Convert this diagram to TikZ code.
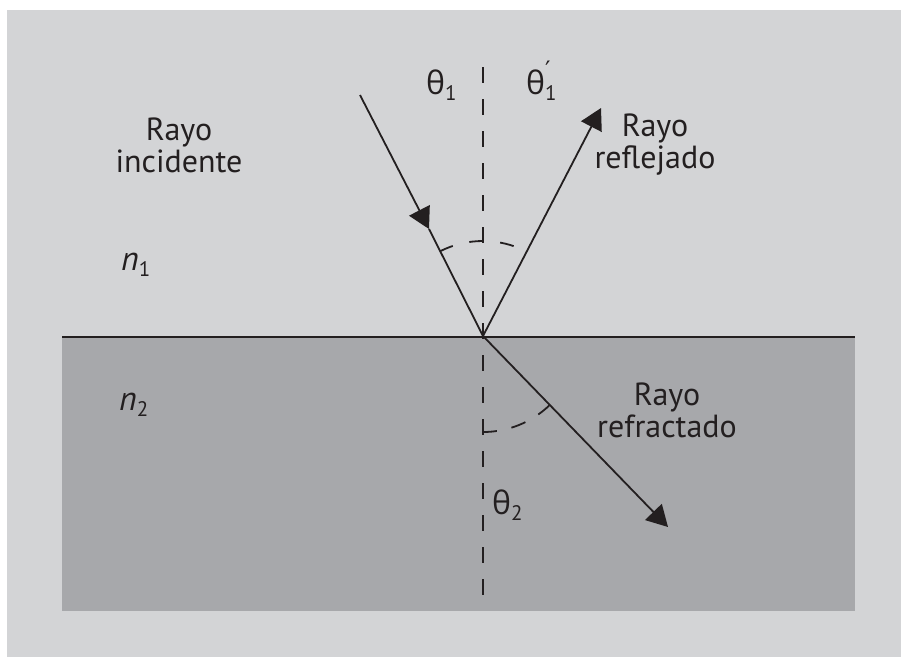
\documentclass[tikz,border=0pt]{standalone}
\usepackage{fontspec}
\setmainfont{PT Sans}
\newfontfamily\gkfont{Open Sans}
\newfontfamily\djvfont{DejaVu Sans}
\usetikzlibrary{arrows.meta}
\definecolor{bglight}{HTML}{D3D4D6}
\definecolor{bgdark}{HTML}{A7A8AB}
\definecolor{ink}{HTML}{231F20}
\tikzset{
  ray/.style={draw=ink, line width=1.8pt},
  tipped/.style={ray, -{Triangle[length=21pt,width=23pt]}},
  normal/.style={draw=ink, line width=1.8pt, dash pattern=on 16pt off 16pt},
  anglearc/.style={draw=ink, line width=1.8pt, dash pattern=on 14pt off 17pt},
  lbl/.style={text=ink, font=\fontsize{32}{32}\selectfont, inner sep=0pt, align=center},
  sym/.style={text=ink, font=\fontsize{32}{32}\selectfont, inner sep=0pt},
  nsym/.style={text=ink, font=\fontsize{34}{34}\selectfont\itshape, inner sep=0pt},
}
\newcommand{\subnum}[1]{\raisebox{-6pt}{\upshape\fontsize{21}{21}\selectfont #1}}
\begin{document}
\begin{tikzpicture}[x=1pt,y=-1pt]
\useasboundingbox (0,0) rectangle (901,657);
\fill[white] (0,0) rectangle (901,657);
\fill[bglight] (7,10) rectangle (901,657);
\fill[bgdark] (62,337) rectangle (855,611);
\coordinate (L) at (62,337);
\coordinate (Rt) at (855,337);
\draw[ray] (L) -- (Rt);
% rays
\coordinate (O) at (483,336);
\coordinate (I) at (360,95);
\coordinate (Imid) at (429,229);
\coordinate (Rend) at (601,108);
\coordinate (Tend) at (668,527);
\coordinate (Ntop) at (483,67);
\coordinate (Nbot) at (483,600);
\draw[normal] (Ntop) -- (Nbot);
\draw[tipped] (I) -- (Imid);
\draw[ray] (Imid) -- (O);
\draw[tipped] (O) -- (Rend);
\draw[tipped] (O) -- (Tend);
% angle arcs
\draw[anglearc] ([shift={(243:95)}]O) arc[start angle=243, end angle=297, radius=95];
\draw[anglearc, dash pattern=on 15pt off 15pt] ([shift={(45.9:96)}]O) arc[start angle=45.9, end angle=90, radius=96];
% labels
\node[lbl, anchor=base] (inc) at (179,172) {Rayo\\incidente};
\node[lbl, anchor=base] (refl) at (655,168) {Rayo\\reflejado};
\node[lbl, anchor=base] (refr) at (667,437) {Rayo\\refractado};
\node[sym, anchor=base west] (t1) at (426,94) {{\gkfont θ}\subnum{1}};
\node[sym, anchor=base west] (t1p) at (526,94) {{\gkfont θ}\rlap{\raisebox{16pt}{\fontsize{24}{24}\selectfont\djvfont ′}}\subnum{1}};
\node[sym, anchor=base west] (t2) at (492,514) {{\gkfont θ}\subnum{2}};
\node[nsym, anchor=base west] (n1) at (121,270) {n\subnum{1}};
\node[nsym, anchor=base west] (n2) at (119,410) {n\subnum{2}};
\end{tikzpicture}
\end{document}
